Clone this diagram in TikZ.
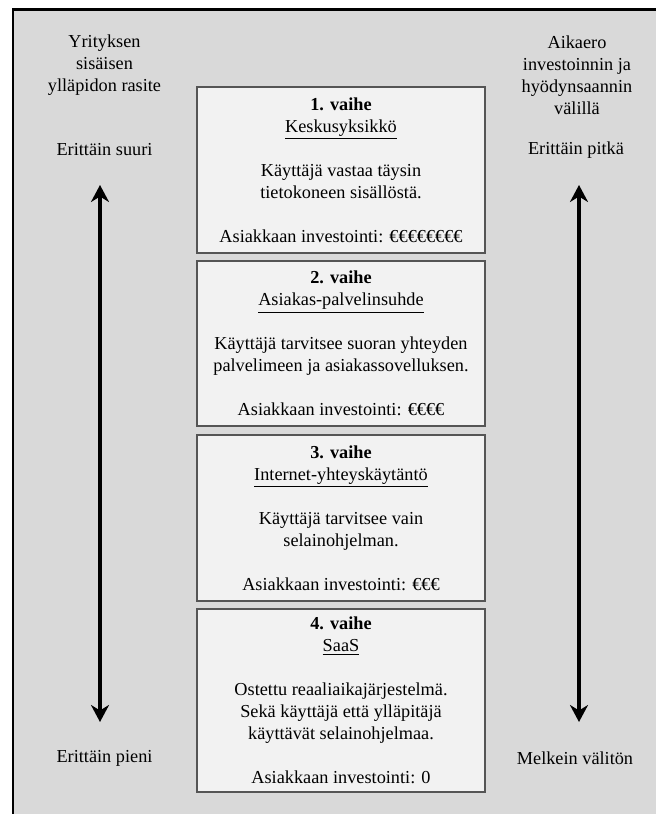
\documentclass[tikz,border=0pt]{standalone}
\usepackage{fontspec}
\setmainfont{Liberation Serif}
\usetikzlibrary{arrows.meta}
\definecolor{taustaharmaa}{HTML}{D9D9D9}
\definecolor{laatikkovari}{HTML}{F2F2F2}
\definecolor{reunavari}{HTML}{555555}
\newcommand{\tyhja}{\\[12.5pt]}
\begin{document}
\begin{tikzpicture}[x = 0.02cm, y = -0.02cm,
		teksti/.style = {align = center, font = \fontsize{10.4}{12.5}\selectfont},
		vaihebox/.style = {teksti, draw = reunavari, line width = 1.1pt, fill = laatikkovari, minimum width = 5.76cm},
		nuoli/.style = {line width = 2pt, {Stealth[length = 3.4mm, width = 3.6mm]}-{Stealth[length = 3.4mm, width = 3.6mm]}}]
		\useasboundingbox (0,0) rectangle (656,814);
		% tausta ja kehys
		\fill [taustaharmaa] (13,9.5) rectangle (656,814);
		\draw [line width = 1.7pt] (13,814) -- (13,9.5) -- (656,9.5);
		% vaiheet
		\node [vaihebox, minimum height = 3.32cm] (vaihe1) at (341,170) {\textbf{1. vaihe}\\ \underline{Keskusyksikkö}\tyhja Käyttäjä vastaa täysin\\ tietokoneen sisällöstä.\tyhja Asiakkaan investointi: €€€€€€€€};
		\node [vaihebox, minimum height = 3.30cm] (vaihe2) at (341,343.5) {\textbf{2. vaihe}\\ \underline{Asiakas-palvelinsuhde}\tyhja Käyttäjä tarvitsee suoran yhteyden\\ palvelimeen ja asiakassovelluksen.\tyhja Asiakkaan investointi: €€€€};
		\node [vaihebox, minimum height = 3.32cm] (vaihe3) at (341,518) {\textbf{3. vaihe}\\ \underline{Internet-yhteyskäytäntö}\tyhja Käyttäjä tarvitsee vain\\ selainohjelman.\tyhja Asiakkaan investointi: €€€};
		\node [vaihebox, minimum height = 3.66cm] (vaihe4) at (341,700.5) {\textbf{4. vaihe}\\ \underline{SaaS}\tyhja Ostettu reaaliaikajärjestelmä.\\ Sekä käyttäjä että ylläpitäjä\\ käyttävät selainohjelmaa.\tyhja Asiakkaan investointi: 0};
		% vasen puoli
		\node [teksti] (rasite) at (104.5,65.5) {Yrityksen\\ sisäisen\\ ylläpidon rasite};
		\node [teksti] (suuri) at (104.5,150) {Erittäin suuri};
		\node [teksti] (pieni) at (104.5,758) {Erittäin pieni};
		\coordinate (vasenYla) at (100,185);
		\coordinate (vasenAla) at (100,722);
		\draw [nuoli] (vasenYla) -- (vasenAla);
		% oikea puoli
		\node [teksti] (aikaero) at (577,75) {Aikaero\\ investoinnin ja\\ hyödynsaannin\\ välillä};
		\node [teksti] (pitka) at (576,150) {Erittäin pitkä};
		\node [teksti] (valiton) at (575,758) {Melkein välitön};
		\coordinate (oikeaYla) at (579,185);
		\coordinate (oikeaAla) at (579,722);
		\draw [nuoli] (oikeaYla) -- (oikeaAla);
		%\draw [nuoli] (pitka) -- (valiton);
	\end{tikzpicture}
\end{document}
